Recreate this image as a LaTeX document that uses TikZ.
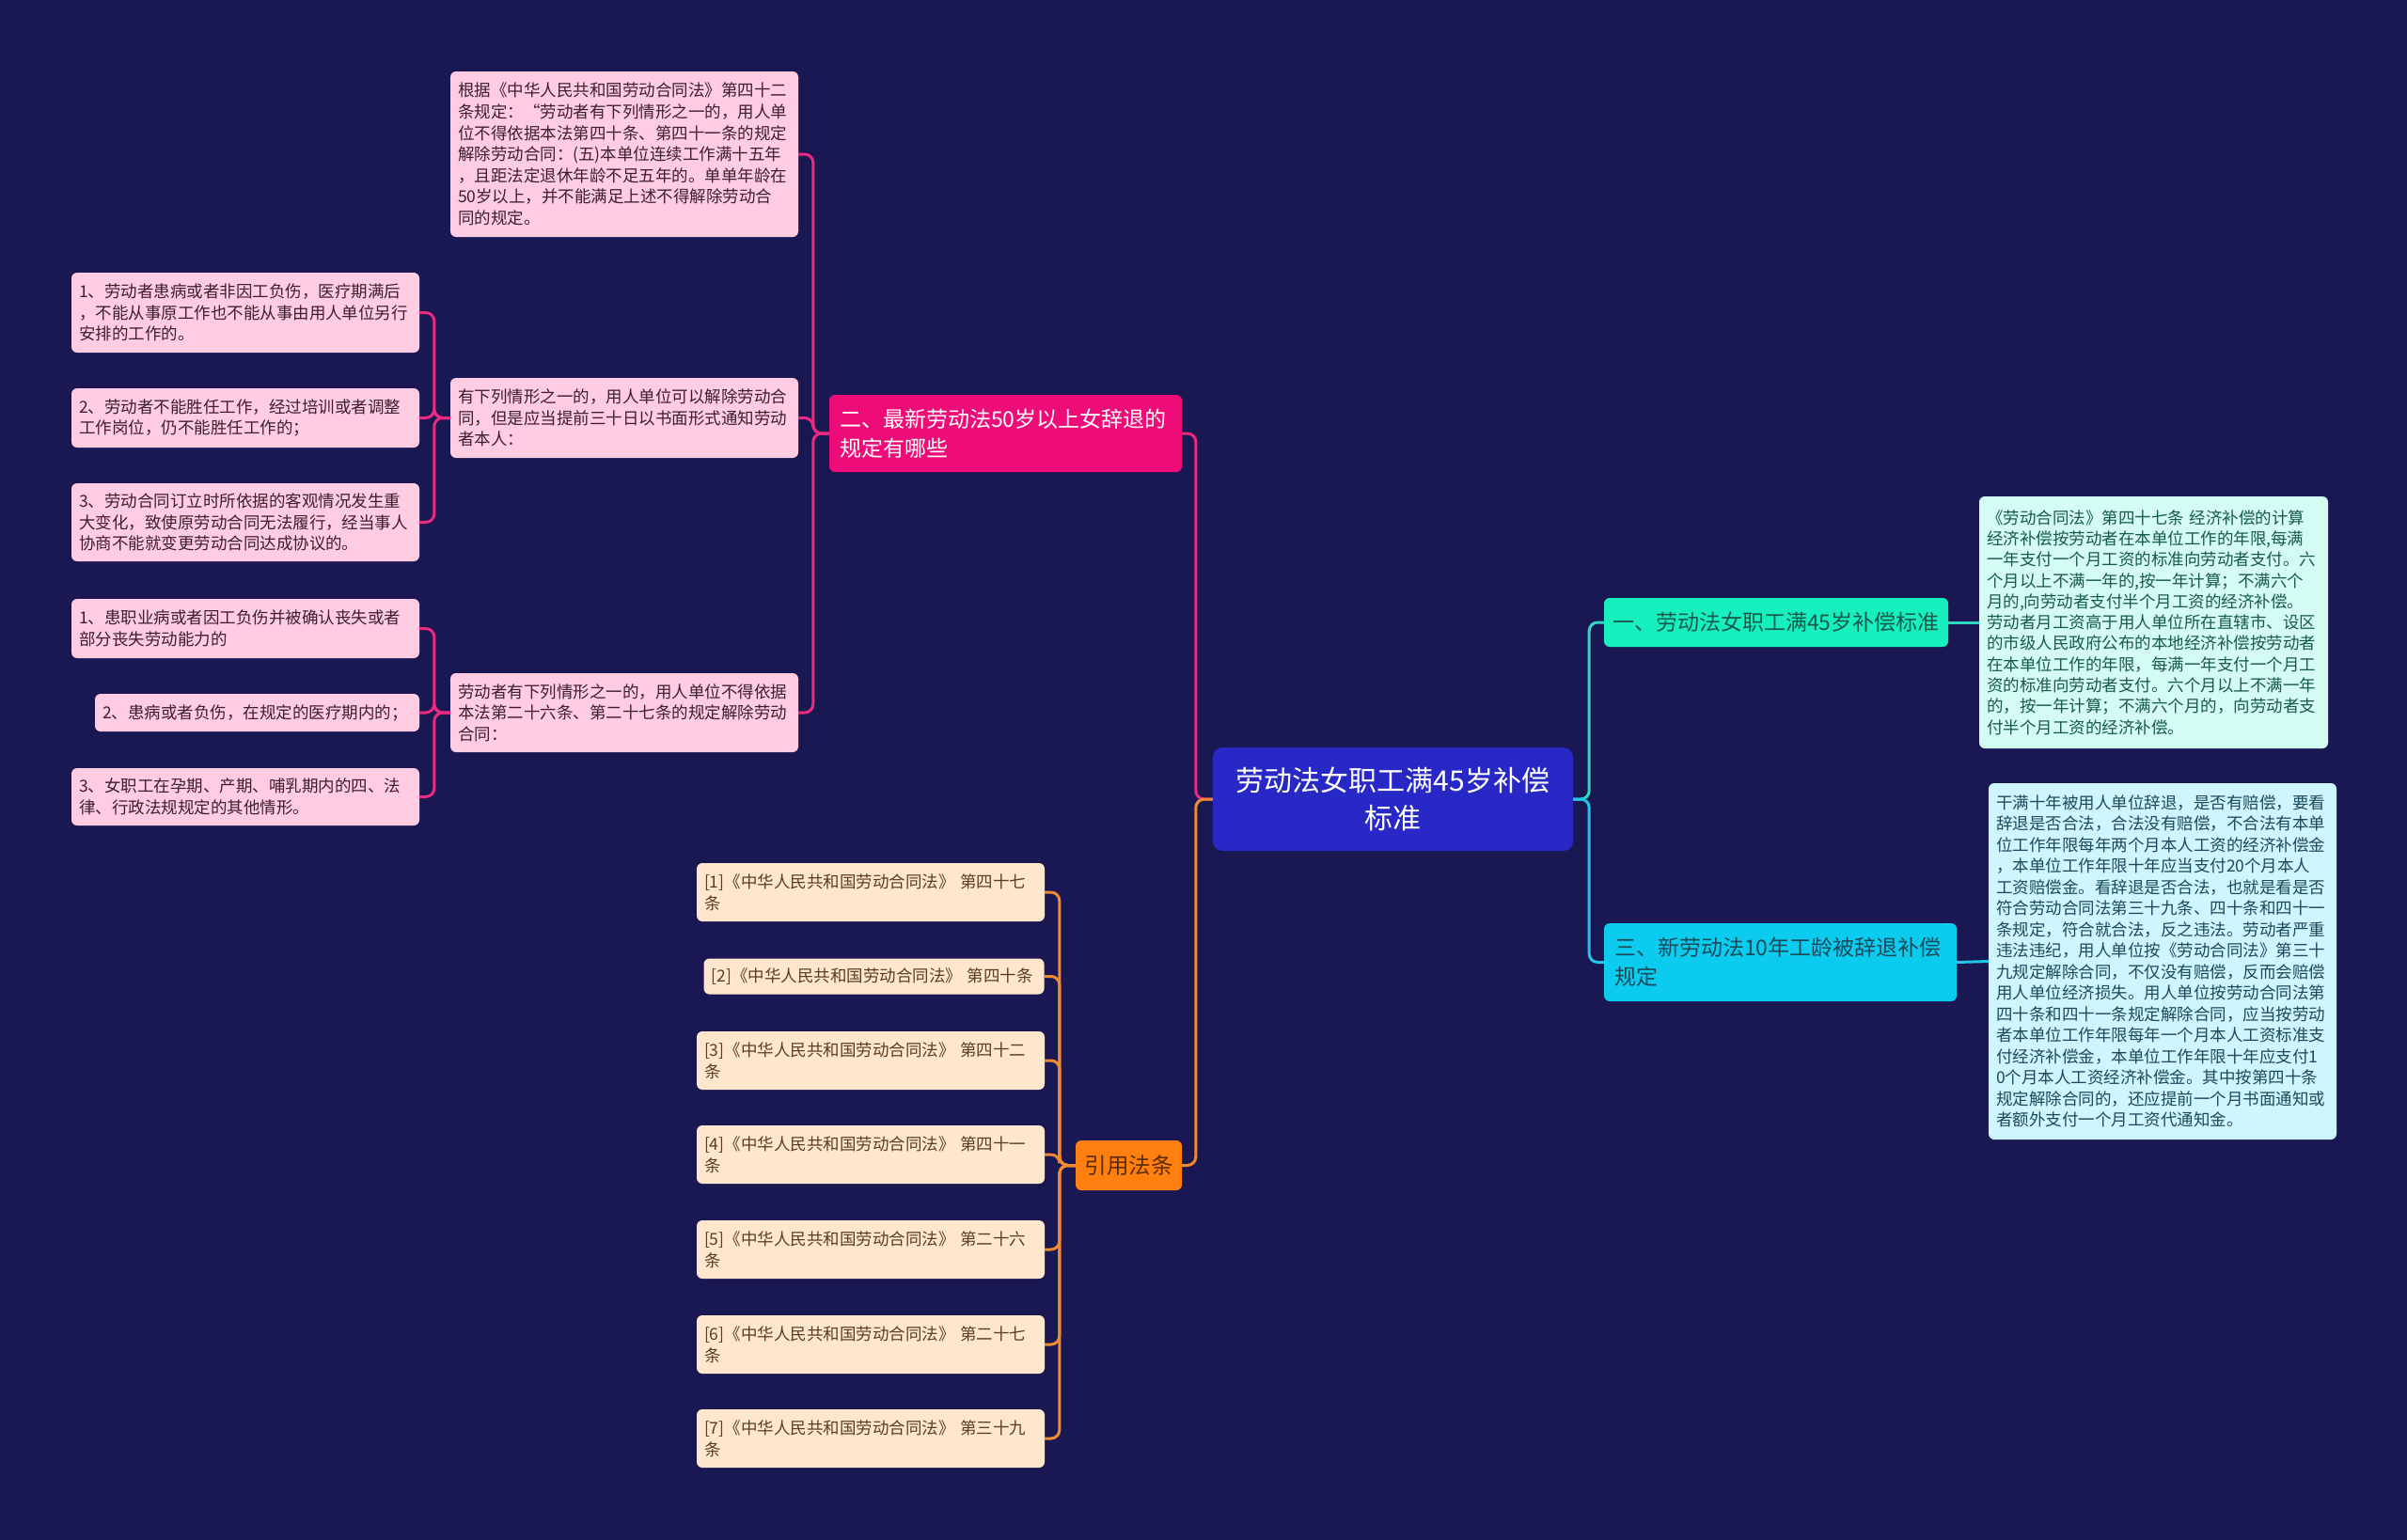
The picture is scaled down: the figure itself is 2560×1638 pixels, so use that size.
\documentclass[tikz,border=0pt]{standalone}
\usepackage{fontspec}
\setmainfont{Noto Sans CJK SC}
\definecolor{bg}{HTML}{1A1852}
\definecolor{rootblue}{HTML}{2828C6}
\definecolor{pinkmain}{HTML}{EE0C78}
\definecolor{pinklight}{HTML}{FFCCE2}
\definecolor{pinktext}{HTML}{3D1F2E}
\definecolor{pinkline}{HTML}{EC2A80}
\definecolor{orangemain}{HTML}{FF800E}
\definecolor{orangetext}{HTML}{5C2C00}
\definecolor{orangeline}{HTML}{F08A30}
\definecolor{peach}{HTML}{FFE6CC}
\definecolor{peachtext}{HTML}{5A3D25}
\definecolor{tealmain}{HTML}{17F0BE}
\definecolor{tealtext}{HTML}{165A4C}
\definecolor{tealline}{HTML}{2ED8C0}
\definecolor{mintlight}{HTML}{D5FCF3}
\definecolor{cyanmain}{HTML}{0BCCEF}
\definecolor{cyantext}{HTML}{1A4A5A}
\definecolor{cyanline}{HTML}{20C6E8}
\definecolor{cyanlight}{HTML}{CFF5FF}
\tikzset{
  every node/.style={inner ysep=0pt},
  root box/.style={fill=rootblue, text=white, rounded corners=10pt, align=center,
    inner xsep=0pt, text width=383pt, minimum height=110pt,
    font=\fontsize{30}{40}\selectfont},
  topic/.style={rounded corners=6pt, inner xsep=11pt, align=left,
    font=\fontsize{23}{31}\selectfont},
  leaf/.style={rounded corners=6pt, inner xsep=8pt, align=left, text width=354pt,
    font=\fontsize{17.5}{22.6}\selectfont},
  pink leaf/.style={leaf, fill=pinklight, text=pinktext},
  peach leaf/.style={leaf, fill=peach, text=peachtext, minimum height=62pt,
    font=\fontsize{17.5}{22.8}\selectfont},
  link/.style={line width=3pt, rounded corners=9pt},
}
\begin{document}
\begin{tikzpicture}[x=1pt, y=-1pt]
  % Background
  \fill[bg] (0,0) rectangle (2560,1638);
  \useasboundingbox (0,0) rectangle (2560,1638);

  % Root
  \node[root box] (root) at (1481.5,850) {劳动法女职工满45岁补偿\\标准};

  % Main topics
  \node[topic, fill=pinkmain, text=white, text width=353pt, minimum height=82pt]
    (law50) at (1069.5,461) {二、最新劳动法50岁以上女辞退的\\规定有哪些};
  \node[topic, fill=orangemain, text=orangetext, inner xsep=0pt, align=center,
    minimum width=113pt, minimum height=53pt, font=\fontsize{23.5}{31}\selectfont]
    (cite) at (1200.5,1239.5) {引用法条};
  \node[topic, fill=tealmain, text=tealtext, inner xsep=9pt, text width=348pt,
    minimum height=52pt] (comp45) at (1889,662) {一、劳动法女职工满45岁补偿标准};
  \node[topic, fill=cyanmain, text=cyantext, text width=353pt, minimum height=83pt]
    (tenyr) at (1893.5,1023.5) {三、新劳动法10年工龄被辞退补偿\\规定};

  % Details of topic two
  \node[pink leaf, minimum height=176pt] (art42) at (664,164) {根据《中华人民共和国劳动合同法》第四十二\\条规定：“劳动者有下列情形之一的，用人单\\位不得依据本法第四十条、第四十一条的规定\\解除劳动合同：(五)本单位连续工作满十五年\\，且距法定退休年龄不足五年的。单单年龄在\\50岁以上，并不能满足上述不得解除劳动合\\同的规定。};
  \node[pink leaf, minimum height=85pt] (may) at (664,444.5) {有下列情形之一的，用人单位可以解除劳动合\\同，但是应当提前三十日以书面形式通知劳动\\者本人：};
  \node[pink leaf, minimum height=84pt] (maynot) at (664,758) {劳动者有下列情形之一的，用人单位不得依据\\本法第二十六条、第二十七条的规定解除劳动\\合同：};

  \node[pink leaf, minimum height=85pt] (may1) at (261,332.5) {1、劳动者患病或者非因工负伤，医疗期满后\\，不能从事原工作也不能从事由用人单位另行\\安排的工作的。};
  \node[pink leaf, minimum height=63pt] (may2) at (261,444.5) {2、劳动者不能胜任工作，经过培训或者调整\\工作岗位，仍不能胜任工作的；};
  \node[pink leaf, minimum height=83pt] (may3) at (261,555.5) {3、劳动合同订立时所依据的客观情况发生重\\大变化，致使原劳动合同无法履行，经当事人\\协商不能就变更劳动合同达成协议的。};

  \node[pink leaf, minimum height=63pt] (not1) at (261,668.5) {1、患职业病或者因工负伤并被确认丧失或者\\部分丧失劳动能力的};
  \node[pink leaf, text width=329pt, minimum height=40pt] (not2) at (273.5,758) {2、患病或者负伤，在规定的医疗期内的；};
  \node[pink leaf, minimum height=61pt] (not3) at (261,847.5) {3、女职工在孕期、产期、哺乳期内的四、法\\律、行政法规规定的其他情形。};

  % Cited articles
  \node[peach leaf] (ref1) at (926,949) {[1]《中华人民共和国劳动合同法》 第四十七\\条};
  \node[peach leaf, text width=346pt, minimum height=38pt] (ref2) at (929.5,1038.5) {[2]《中华人民共和国劳动合同法》 第四十条};
  \node[peach leaf] (ref3) at (926,1128) {[3]《中华人民共和国劳动合同法》 第四十二\\条};
  \node[peach leaf] (ref4) at (926,1228) {[4]《中华人民共和国劳动合同法》 第四十一\\条};
  \node[peach leaf] (ref5) at (926,1329) {[5]《中华人民共和国劳动合同法》 第二十六\\条};
  \node[peach leaf] (ref6) at (926,1430) {[6]《中华人民共和国劳动合同法》 第二十七\\条};
  \node[peach leaf] (ref7) at (926,1530) {[7]《中华人民共和国劳动合同法》 第三十九\\条};

  % Right side details
  \node[leaf, fill=mintlight, text=tealtext, text width=355pt, minimum height=268pt,
    font=\fontsize{17.5}{22.3}\selectfont] (art47) at (2290.5,662) {《劳动合同法》第四十七条 经济补偿的计算\\经济补偿按劳动者在本单位工作的年限,每满\\一年支付一个月工资的标准向劳动者支付。六\\个月以上不满一年的,按一年计算；不满六个\\月的,向劳动者支付半个月工资的经济补偿。\\劳动者月工资高于用人单位所在直辖市、设区\\的市级人民政府公布的本地经济补偿按劳动者\\在本单位工作的年限，每满一年支付一个月工\\资的标准向劳动者支付。六个月以上不满一年\\的，按一年计算；不满六个月的，向劳动者支\\付半个月工资的经济补偿。};
  \node[leaf, fill=cyanlight, text=cyantext, minimum height=379pt,
    font=\fontsize{17.5}{22.5}\selectfont] (tendet) at (2300,1022.5) {干满十年被用人单位辞退，是否有赔偿，要看\\辞退是否合法，合法没有赔偿，不合法有本单\\位工作年限每年两个月本人工资的经济补偿金\\，本单位工作年限十年应当支付20个月本人\\工资赔偿金。看辞退是否合法，也就是看是否\\符合劳动合同法第三十九条、四十条和四十一\\条规定，符合就合法，反之违法。劳动者严重\\违法违纪，用人单位按《劳动合同法》第三十\\九规定解除合同，不仅没有赔偿，反而会赔偿\\用人单位经济损失。用人单位按劳动合同法第\\四十条和四十一条规定解除合同，应当按劳动\\者本单位工作年限每年一个月本人工资标准支\\付经济补偿金，本单位工作年限十年应支付1\\0个月本人工资经济补偿金。其中按第四十条\\规定解除合同的，还应提前一个月书面通知或\\者额外支付一个月工资代通知金。};

  % Connectors
  \draw[link, pinkline] (root.west) -- ++(-18,0) |- (law50.east);
  \draw[link, orangeline] (root.west) -- ++(-18,0) |- (cite.east);
  \draw[link, tealline] (root.east) -- ++(17,0) |- (comp45.west);
  \draw[link, cyanline] (root.east) -- ++(17,0) |- (tenyr.west);

  \foreach \n in {art42,may,maynot}
    \draw[link, pinkline] (law50.west) -- ++(-17,0) |- (\n.east);
  \foreach \n in {may1,may2,may3}
    \draw[link, pinkline] (may.west) -- ++(-17,0) |- (\n.east);
  \foreach \n in {not1,not2,not3}
    \draw[link, pinkline] (maynot.west) -- ++(-17,0) |- (\n.east);
  \foreach \i in {1,...,7}
    \draw[link, orangeline] (cite.west) -- ++(-17,0) |- (ref\i.east);

  \draw[link, tealline] (comp45.east) -- (art47.west);
  \draw[link, cyanline] (tenyr.east) -- (tendet.west);
\end{tikzpicture}
\end{document}
